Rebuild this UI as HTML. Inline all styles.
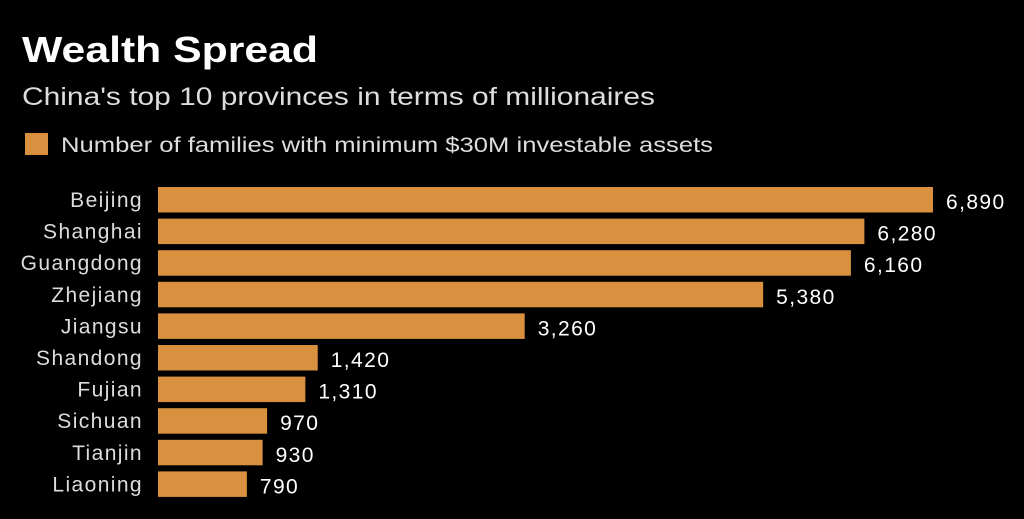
<!DOCTYPE html>
<html><head><meta charset="utf-8"><style>
body{margin:0;background:#000;width:1024px;height:514px;overflow:hidden;font-family:"Liberation Sans",sans-serif;}
</style></head><body>
<svg id="chart" width="1024" height="514" xmlns="http://www.w3.org/2000/svg">
<text x="22" y="62" fill="#fff" font-size="36" font-weight="bold" textLength="296" lengthAdjust="spacingAndGlyphs">Wealth Spread</text>
<text x="22" y="105" fill="#ddd" font-size="25" textLength="633" lengthAdjust="spacingAndGlyphs">China's top 10 provinces in terms of millionaires</text>
<rect x="25" y="133" width="23" height="22" fill="#d9903f"/>
<text x="61" y="152" fill="#ddd" font-size="21" textLength="652" lengthAdjust="spacingAndGlyphs">Number of families with minimum $30M investable assets</text>
<g id="bars"></g>
</svg>
<script>
const categories=["Beijing","Shanghai","Guangdong","Zhejiang","Jiangsu","Shandong","Fujian","Sichuan","Tianjin","Liaoning"];
const values=[6890,6280,6160,5380,3260,1420,1310,970,930,790];
const valueLabels=["6,890","6,280","6,160","5,380","3,260","1,420","1,310","970","930","790"];
const x0=158,scale=775/6890,y0=187,pitch=31.6,bh=25.5;
const g=document.getElementById('bars');const ns="http://www.w3.org/2000/svg";
function xs(v){return v*scale;}
function ys(i){return y0+i*pitch;}
categories.forEach((c,i)=>{
 const r=document.createElementNS(ns,'rect');
 
 
 r.setAttribute('x',x0);r.setAttribute('y',ys(i));r.setAttribute('width',xs(values[i]));r.setAttribute('height',bh);r.setAttribute('fill','#d9903f');g.appendChild(r);
 const t=document.createElementNS(ns,'text');
 
 
 t.setAttribute('x',143);t.setAttribute('y',ys(i)+20);t.setAttribute('text-anchor','end');t.setAttribute('fill','#ddd');t.setAttribute('font-size','21');t.setAttribute('letter-spacing','1.4');t.textContent=c;g.appendChild(t);
 const v=document.createElementNS(ns,'text');
 
 
 v.setAttribute('x',x0+xs(values[i])+13);v.setAttribute('y',ys(i)+22);v.setAttribute('fill','#fff');v.setAttribute('font-size','21');v.setAttribute('letter-spacing','1.4');v.textContent=valueLabels[i];g.appendChild(v);
});
</script>
</body></html>
